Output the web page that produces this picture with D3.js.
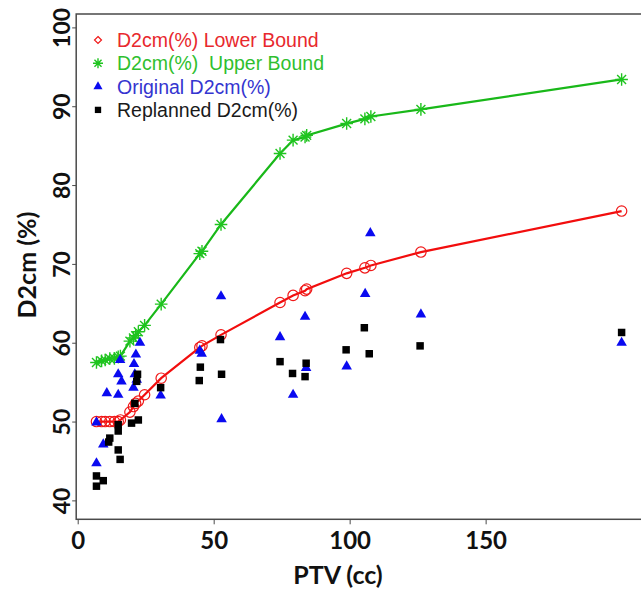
<!DOCTYPE html>
<html><head><meta charset="utf-8">
<script src="https://cdn.jsdelivr.net/npm/d3@7"></script>
<style>body{margin:0;background:#fff}</style>
</head><body><svg id="c" width="641" height="591"></svg>
<script>
// PTV (cc) of the bound curves
const boundPtv   = [6.9, 8.8, 10.1, 11.8, 13.5, 14.9, 15.7, 19.2, 20.5, 21.3, 22.3, 24.6, 30.7, 44.9, 45.7, 52.7, 74.4, 79.2, 83.6, 84.2, 98.9, 105.6, 107.8, 126.2, 200.0];
const lowerBound = [50.0, 50.0, 50.0, 50.0, 50.0, 50.0, 50.2, 51.2, 51.9, 52.3, 52.6, 53.4, 55.5, 59.4, 59.6, 61.0, 65.1, 66.0, 66.6, 66.8, 68.8, 69.5, 69.8, 71.5, 76.7];
const upperBound = [57.5, 57.7, 57.8, 58.0, 58.0, 58.2, 58.3, 60.2, 60.6, 60.9, 61.4, 62.2, 64.9, 71.3, 71.6, 75.0, 84.0, 85.7, 86.1, 86.3, 87.8, 88.4, 88.7, 89.6, 93.4];
// Original plans
const origPtv = [6.9, 9.4, 6.9, 10.7, 14.9, 16.1, 20.5, 14.9, 21.0, 21.7, 15.6, 21.4, 20.7, 22.9, 30.5, 44.9, 45.6, 52.7, 52.9, 74.4, 79.2, 83.6, 84.0, 98.9, 105.7, 107.6, 126.2, 200.0];
const origVal = [49.9, 47.1, 44.7, 53.6, 53.4, 55.1, 54.3, 56.0, 56.0, 55.3, 57.8, 58.5, 57.3, 60.0, 53.3, 59.0, 58.6, 65.9, 50.3, 60.7, 53.4, 63.3, 56.8, 57.0, 66.2, 73.9, 63.6, 60.0];
// Replanned
const replPtv = [6.9, 9.4, 6.9, 11.4, 11.8, 14.9, 14.9, 14.9, 15.6, 19.8, 21.0, 21.7, 22.0, 22.3, 30.5, 45.1, 44.7, 52.5, 52.9, 74.4, 79.0, 84.0, 83.6, 98.7, 105.4, 107.2, 125.9, 200.0];
const replVal = [43.1, 42.5, 41.8, 47.4, 47.9, 49.6, 48.8, 46.4, 45.2, 49.8, 52.3, 55.1, 56.0, 50.2, 54.3, 56.9, 55.2, 60.4, 56.0, 57.6, 56.1, 57.4, 55.7, 59.1, 61.9, 58.6, 59.6, 61.3];

const xTicks = [0, 50, 100, 150];
const yTicks = [40, 50, 60, 70, 80, 90, 100];
const legendLabels = ["D2cm(%) Lower Bound", "D2cm(%)  Upper Bound", "Original D2cm(%)", "Replanned D2cm(%)"];
const legendColors = ["#e8282d", "#2fbf2f", "#3535d0", "#1a1a1a"];

const svg = d3.select("#c");
const L = 76.2, R = 645, T = 14, B = 519.3;
const x = d3.scaleLinear().domain([-0.55, 208.6]).range([L, R]);
const y = d3.scaleLinear().domain([37.6, 101.7]).range([B, T]);

const tickFont = "Lato, 'DejaVu Sans', sans-serif";

// frame
svg.append("rect").attr("x", L).attr("y", T).attr("width", R - L).attr("height", B - T)
  .attr("fill", "none").attr("stroke", "#4a4a4a").attr("stroke-width", 1.5);

// x axis
const gx = svg.append("g").attr("transform", `translate(0,${B})`)
  .call(d3.axisBottom(x).tickValues(xTicks).tickSize(5).tickPadding(8).tickFormat(d3.format("d")));
gx.select(".domain").remove();
gx.selectAll(".tick line").attr("stroke", "#4a4a4a");
gx.selectAll("text").attr("font-family", tickFont).attr("font-weight", 700)
  .attr("font-size", 24).attr("fill", "#111");

// y axis
const gy = svg.append("g").attr("transform", `translate(${L},0)`)
  .call(d3.axisLeft(y).tickValues(yTicks).tickSize(4).tickFormat(d3.format("d")));
gy.select(".domain").remove();
gy.selectAll(".tick line").attr("stroke", "#4a4a4a");
gy.selectAll("text").attr("font-family", tickFont).attr("font-weight", 700)
  .attr("font-size", 23).attr("fill", "#111")
  .attr("transform", "rotate(-90)").attr("x", 0).attr("y", -6).attr("dy", 0)
  .attr("text-anchor", "middle");

// axis titles
svg.append("text").attr("x", 338).attr("y", 584).attr("text-anchor", "middle")
  .attr("font-family", tickFont).attr("font-weight", 700).attr("font-size", 25).attr("fill", "#111")
  .text("PTV (cc)");
svg.append("text").attr("transform", "translate(36,265) rotate(-90)").attr("text-anchor", "middle")
  .attr("font-family", tickFont).attr("font-weight", 700).attr("font-size", 25).attr("fill", "#111")
  .text("D2cm (%)");

const boundData = boundPtv.map((p, i) => ({p, lo: lowerBound[i], hi: upperBound[i]}));
const lineLo = d3.line().x(d => x(d.p)).y(d => y(d.lo));
const lineHi = d3.line().x(d => x(d.p)).y(d => y(d.hi));

svg.append("path").datum(boundData).attr("d", lineHi).attr("fill", "none")
  .attr("stroke", "#19b819").attr("stroke-width", 2.2);
svg.append("path").datum(boundData).attr("d", lineLo).attr("fill", "none")
  .attr("stroke", "#f20d0d").attr("stroke-width", 2.2);

// red open circles
svg.append("g").selectAll("circle").data(boundData).join("circle")
  .attr("cx", d => x(d.p)).attr("cy", d => y(d.lo)).attr("r", 5.2)
  .attr("fill", "none").attr("stroke", "#f01818").attr("stroke-width", 1.2);

// green stars
function starPath(r) {
  let s = "";
  for (let k = 0; k < 4; k++) {
    const a = k * Math.PI / 4;
    const dx = r * Math.cos(a), dy = r * Math.sin(a);
    s += `M${-dx},${-dy}L${dx},${dy}`;
  }
  return s;
}
svg.append("g").selectAll("path").data(boundData).join("path")
  .attr("transform", d => `translate(${x(d.p)},${y(d.hi)})`)
  .attr("d", starPath(6.3)).attr("stroke", "#1fc41f").attr("stroke-width", 1.4).attr("fill", "none");

// blue triangles
const tri = d3.symbol(d3.symbolTriangle, 48)();
svg.append("g").selectAll("path").data(origPtv.map((p, i) => ({p, v: origVal[i]}))).join("path")
  .attr("transform", d => `translate(${x(d.p)},${y(d.v)})`)
  .attr("d", tri).attr("fill", "#0a0af0");

// black squares
const sq = d3.symbol(d3.symbolSquare, 56)();
svg.append("g").selectAll("path").data(replPtv.map((p, i) => ({p, v: replVal[i]}))).join("path")
  .attr("transform", d => `translate(${x(d.p)},${y(d.v)})`)
  .attr("d", sq).attr("fill", "#000");

// legend
const lg = svg.append("g").attr("transform", "translate(98,40)");
const rowH = 23.3;
legendLabels.forEach((t, i) => {
  const gy0 = i * rowH;
  lg.append("text").attr("x", 19).attr("y", gy0 + 7)
    .attr("font-family", "'Liberation Sans', Arial, sans-serif").attr("font-size", 19.5)
    .attr("fill", legendColors[i]).style("white-space", "pre").text(t);
});
lg.append("path")
  .attr("d", "M0,-3.5L3.5,0L0,3.5L-3.5,0Z").attr("fill", "none").attr("stroke", "#f01818").attr("stroke-width", 1.2);
lg.append("path").attr("transform", `translate(0,${rowH})`)
  .attr("d", starPath(5)).attr("stroke", "#1fc41f").attr("stroke-width", 1.4);
lg.append("path").attr("transform", `translate(0,${2 * rowH})`)
  .attr("d", d3.symbol(d3.symbolTriangle, 36)()).attr("fill", "#0a0af0");
lg.append("path").attr("transform", `translate(0,${3 * rowH})`)
  .attr("d", d3.symbol(d3.symbolSquare, 40)()).attr("fill", "#000");
</script></body></html>
